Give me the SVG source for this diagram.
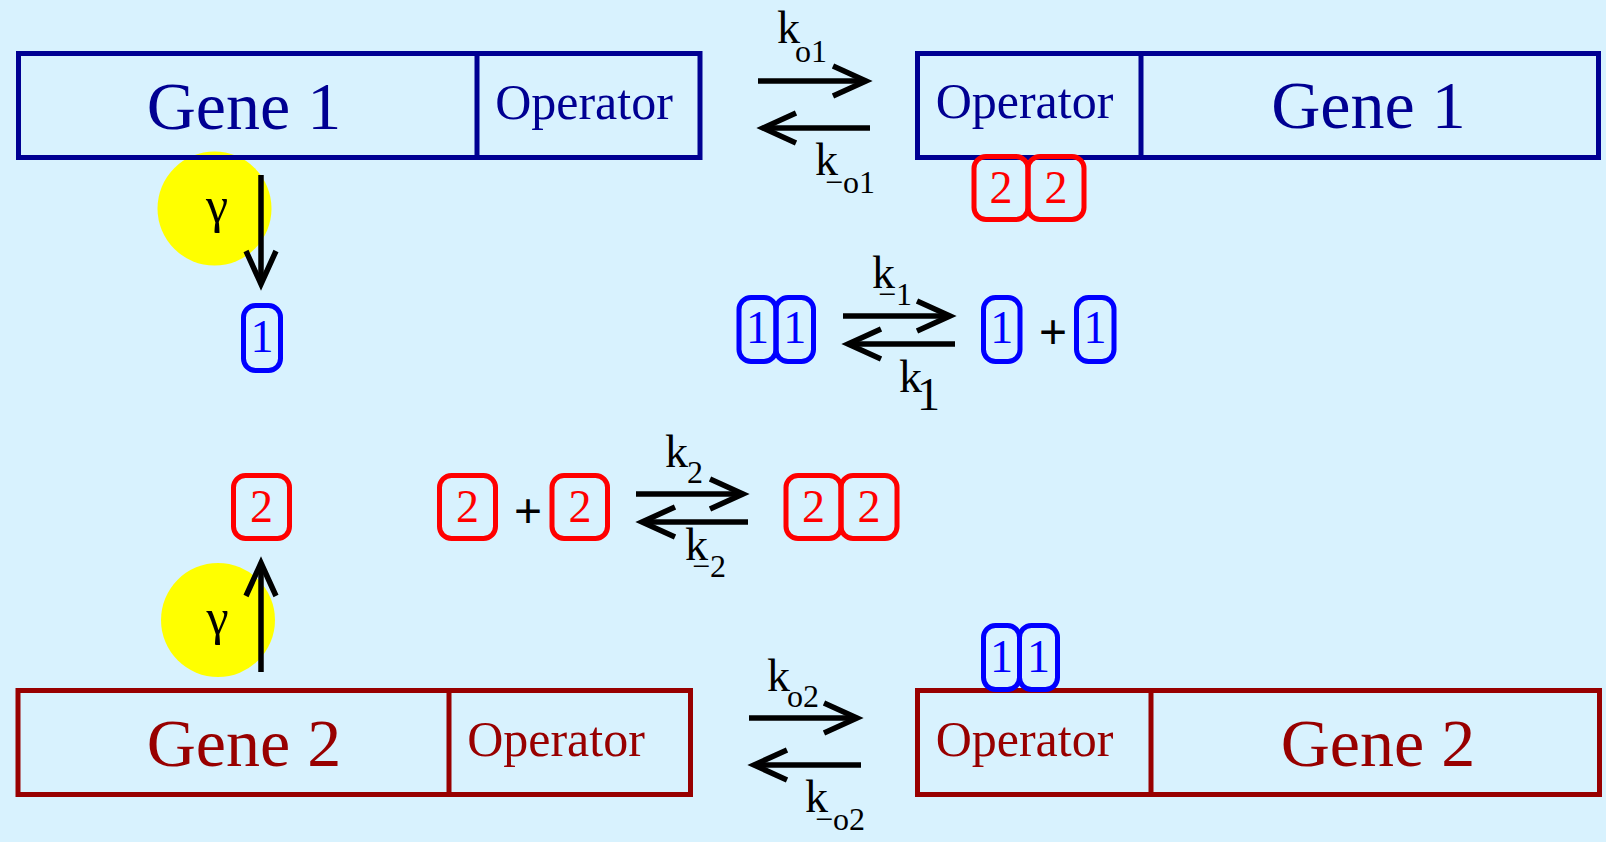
<svg xmlns="http://www.w3.org/2000/svg" width="1606" height="842" viewBox="0 0 1606 842">
<style>
  text { font-family: "Liberation Serif", "Times New Roman", serif; }
  .g1 { fill: none; stroke: #000092; stroke-width: 5; }
  .g2 { fill: none; stroke: #980000; stroke-width: 5; }
  .t1 { fill: #000092; text-anchor: middle; }
  .t2 { fill: #980000; text-anchor: middle; }
  .gene { font-size: 68px; }
  .op { font-size: 50px; }
  .rb { fill: none; stroke: #FF0000; stroke-width: 5; }
  .bb { fill: none; stroke: #0000FF; stroke-width: 5; }
  .rd { fill: #FF0000; font-size: 46px; text-anchor: middle; }
  .bd { fill: #0000FF; font-size: 46px; text-anchor: middle; }
  .plus { fill: #000000; font-family: "Liberation Sans", Arial, sans-serif; font-size: 48px; text-anchor: middle; }
  .lbl { fill: #000000; font-size: 46px; }
  .sub { font-size: 32px; }
  .arr { fill: none; stroke: #000000; stroke-width: 5.5; marker-end: url(#head); }
  .yc { fill: #FFFF00; }
  .gam { fill: #000000; font-size: 50px; text-anchor: middle; }
</style>
<defs>
  <marker id="head" markerUnits="userSpaceOnUse" markerWidth="44" markerHeight="40" viewBox="-40 -20 44 40" refX="0" refY="0" orient="auto" overflow="visible">
    <path d="M-33,-15 L0,0 L-33,15" fill="none" stroke="#000000" stroke-width="5.5" stroke-linejoin="miter"/>
  </marker>
</defs>
<rect x="0" y="0" width="1606" height="842" fill="#D8F2FE"/>

<g id="decay1">
  <circle class="yc" cx="214.5" cy="208.5" r="57"/>
  <text class="gam" x="217" y="222">γ</text>
</g>
<g id="decay2">
  <circle class="yc" cx="218" cy="620" r="57"/>
  <text class="gam" x="217.5" y="634">γ</text>
</g>

<g id="gene1-free">
  <rect class="g1" x="18.5" y="53.5" width="681.5" height="104"/>
  <line class="g1" x1="477" y1="53.5" x2="477" y2="157.5"/>
  <text class="t1 gene" x="244" y="129">Gene 1</text>
  <text class="t1 op" x="584" y="119">Operator</text>
</g>

<g id="gene1-bound">
  <rect class="g1" x="917.5" y="53.5" width="681" height="104"/>
  <line class="g1" x1="1141" y1="53.5" x2="1141" y2="157.5"/>
  <text class="t1 op" x="1024.5" y="118">Operator</text>
  <text class="t1 gene" x="1368.5" y="128">Gene 1</text>
</g>

<g id="dimer2-on-op1">
  <rect class="rb" x="974" y="156.5" width="54" height="63" rx="12"/>
  <rect class="rb" x="1028" y="156.5" width="56" height="63" rx="12"/>
  <text class="rd" x="1001" y="203">2</text>
  <text class="rd" x="1056" y="203">2</text>
</g>

<g id="protein1">
  <rect class="bb" x="243.5" y="305.5" width="37" height="65" rx="12"/>
  <text class="bd" x="262" y="352">1</text>
</g>

<g id="dimer1">
  <rect class="bb" x="739" y="297.5" width="37" height="64" rx="12"/>
  <rect class="bb" x="776" y="297.5" width="37.5" height="64" rx="12"/>
  <text class="bd" x="757.5" y="343">1</text>
  <text class="bd" x="794.8" y="343">1</text>
</g>

<g id="monomers1">
  <rect class="bb" x="983.5" y="297.5" width="36.5" height="64" rx="12"/>
  <text class="bd" x="1001.8" y="343">1</text>
  <text class="plus" x="1053" y="348">+</text>
  <rect class="bb" x="1076.5" y="297.5" width="37.5" height="64" rx="12"/>
  <text class="bd" x="1095" y="343">1</text>
</g>

<g id="protein2">
  <rect class="rb" x="233.5" y="475.5" width="56" height="63" rx="12"/>
  <text class="rd" x="261.5" y="522">2</text>
</g>

<g id="monomers2">
  <rect class="rb" x="439.5" y="475.5" width="56" height="63" rx="12"/>
  <text class="rd" x="467.5" y="522">2</text>
  <text class="plus" x="528" y="527">+</text>
  <rect class="rb" x="552" y="475.5" width="55.5" height="63" rx="12"/>
  <text class="rd" x="580" y="522">2</text>
</g>

<g id="dimer2">
  <rect class="rb" x="786" y="475.5" width="55" height="63" rx="12"/>
  <rect class="rb" x="841" y="475.5" width="56" height="63" rx="12"/>
  <text class="rd" x="813.5" y="522">2</text>
  <text class="rd" x="869" y="522">2</text>
</g>

<g id="gene2-free">
  <rect class="g2" x="18" y="690.5" width="672.5" height="104"/>
  <line class="g2" x1="449" y1="690.5" x2="449" y2="794.5"/>
  <text class="t2 gene" x="244" y="766">Gene 2</text>
  <text class="t2 op" x="556" y="756">Operator</text>
</g>

<g id="gene2-bound">
  <rect class="g2" x="917.5" y="690.5" width="682" height="104"/>
  <line class="g2" x1="1151" y1="690.5" x2="1151" y2="794.5"/>
  <text class="t2 op" x="1024.5" y="756">Operator</text>
  <text class="t2 gene" x="1378" y="766">Gene 2</text>
</g>

<g id="dimer1-on-op2">
  <rect class="bb" x="983.5" y="625.5" width="36" height="64" rx="12"/>
  <rect class="bb" x="1019.5" y="625.5" width="38" height="64" rx="12"/>
  <text class="bd" x="1001.5" y="672">1</text>
  <text class="bd" x="1038.5" y="672">1</text>
</g>

<g id="connectors">
  <line class="arr" x1="261" y1="175" x2="261" y2="284"/>
  <line class="arr" x1="261" y1="672" x2="261" y2="563"/>
  <line class="arr" x1="758" y1="81" x2="866" y2="81"/>
  <line class="arr" x1="870" y1="128" x2="763" y2="128"/>
  <line class="arr" x1="843" y1="316" x2="950" y2="316"/>
  <line class="arr" x1="955" y1="344" x2="848" y2="344"/>
  <line class="arr" x1="636" y1="494" x2="743" y2="494"/>
  <line class="arr" x1="748" y1="522" x2="642" y2="522"/>
  <line class="arr" x1="749" y1="718" x2="857" y2="718"/>
  <line class="arr" x1="861" y1="765" x2="754" y2="765"/>
</g>

<g id="labels">
  <text class="lbl" x="777" y="43">k<tspan class="sub" x="795" y="62">o1</tspan></text>
  <text class="lbl" x="815" y="175">k<tspan class="sub" x="825" y="193">−o1</tspan></text>
  <text class="lbl" x="872" y="288">k<tspan class="sub" x="878" y="305">−1</tspan></text>
  <text class="lbl" x="899" y="392">k<tspan x="917" y="410">1</tspan></text>
  <text class="lbl" x="665" y="467">k<tspan class="sub" x="687" y="483">2</tspan></text>
  <text class="lbl" x="685" y="560">k<tspan class="sub" x="692" y="577">−2</tspan></text>
  <text class="lbl" x="767" y="691">k<tspan class="sub" x="787" y="707">o2</tspan></text>
  <text class="lbl" x="805" y="812">k<tspan class="sub" x="815" y="830">−o2</tspan></text>
</g>
</svg>
